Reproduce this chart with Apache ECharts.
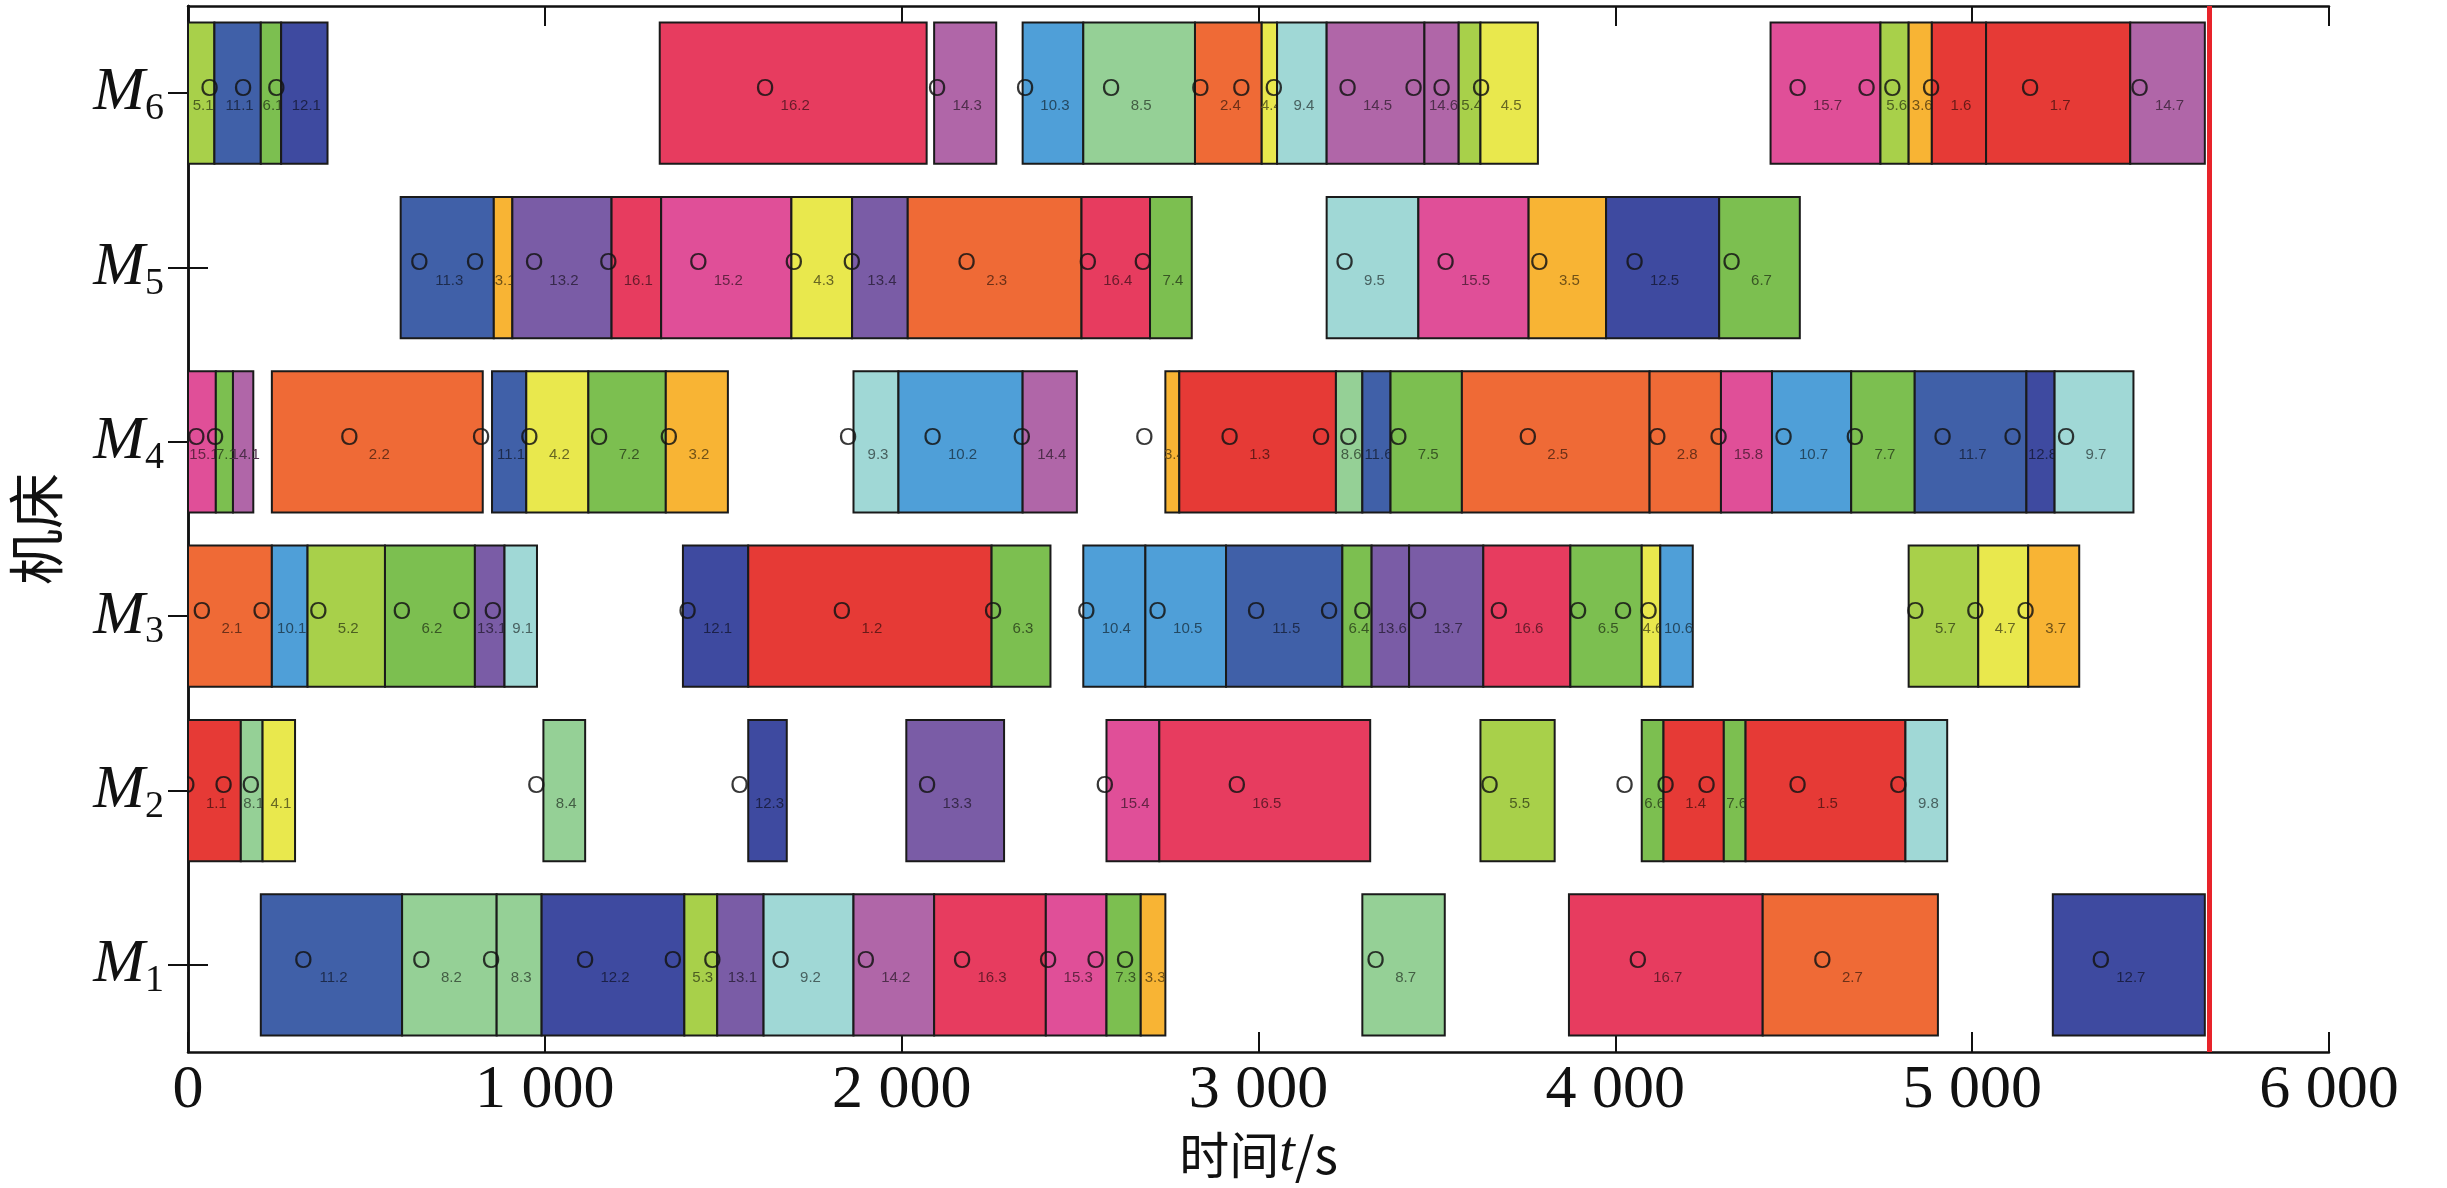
<!DOCTYPE html>
<html>
<head>
<meta charset="utf-8">
<script src="https://cdn.jsdelivr.net/npm/echarts@6/dist/echarts.min.js"></script>
<style>
html,body{margin:0;padding:0;background:#fff;}
#chart{width:2447px;height:1188px;}
</style>
</head>
<body>
<div id="chart"></div>
<script>
// ---------- data ----------
const machines = ['M1', 'M2', 'M3', 'M4', 'M5', 'M6'];
const xTicks = [0, 1000, 2000, 3000, 4000, 5000, 6000];
const makespan = 5665;

// [start, end, 'job.operation']
const opsM1 = [
  [204, 600, '11.2'], [600, 865, '8.2'], [865, 991, '8.3'], [991, 1391, '12.2'],
  [1391, 1483, '5.3'], [1483, 1613, '13.1'], [1613, 1865, '9.2'], [1865, 2091, '14.2'],
  [2091, 2404, '16.3'], [2404, 2574, '15.3'], [2574, 2670, '7.3'], [2670, 2739, '3.3'],
  [3291, 3522, '8.7'], [3870, 4413, '16.7'], [4413, 4904, '2.7'], [5226, 5652, '12.7']
];
const opsM2 = [
  [0, 148, '1.1'], [148, 209, '8.1'], [209, 300, '4.1'], [996, 1113, '8.4'],
  [1570, 1678, '12.3'], [2013, 2287, '13.3'], [2574, 2722, '15.4'], [2722, 3313, '16.5'],
  [3622, 3830, '5.5'], [4074, 4135, '6.6'], [4135, 4304, '1.4'], [4304, 4365, '7.6'],
  [4365, 4813, '1.5'], [4813, 4930, '9.8']
];
const opsM3 = [
  [0, 235, '2.1'], [235, 335, '10.1'], [335, 552, '5.2'], [552, 804, '6.2'],
  [804, 887, '13.1'], [887, 978, '9.1'], [1387, 1570, '12.1'], [1570, 2252, '1.2'],
  [2252, 2417, '6.3'], [2509, 2683, '10.4'], [2683, 2909, '10.5'], [2909, 3235, '11.5'],
  [3235, 3317, '6.4'], [3317, 3422, '13.6'], [3422, 3630, '13.7'], [3630, 3874, '16.6'],
  [3874, 4074, '6.5'], [4074, 4126, '4.6'], [4126, 4217, '10.6'],
  [4822, 5017, '5.7'], [5017, 5157, '4.7'], [5157, 5300, '3.7']
];
const opsM4 = [
  [0, 78, '15.1'], [78, 126, '7.1'], [126, 183, '14.1'], [235, 826, '2.2'],
  [852, 948, '11.1'], [948, 1122, '4.2'], [1122, 1339, '7.2'], [1339, 1513, '3.2'],
  [1865, 1991, '9.3'], [1991, 2339, '10.2'], [2339, 2491, '14.4'],
  [2739, 2778, '3.4'], [2778, 3217, '1.3'], [3217, 3291, '8.6'], [3291, 3370, '11.6'],
  [3370, 3570, '7.5'], [3570, 4096, '2.5'], [4096, 4296, '2.8'], [4296, 4439, '15.8'],
  [4439, 4661, '10.7'], [4661, 4839, '7.7'], [4839, 5152, '11.7'], [5152, 5231, '12.8'],
  [5231, 5452, '9.7']
];
const opsM5 = [
  [596, 857, '11.3'], [857, 909, '3.1'], [909, 1187, '13.2'], [1187, 1326, '16.1'],
  [1326, 1691, '15.2'], [1691, 1861, '4.3'], [1861, 2017, '13.4'], [2017, 2504, '2.3'],
  [2504, 2696, '16.4'], [2696, 2813, '7.4'], [3191, 3448, '9.5'], [3448, 3757, '15.5'],
  [3757, 3974, '3.5'], [3974, 4291, '12.5'], [4291, 4517, '6.7']
];
const opsM6 = [
  [0, 74, '5.1'], [74, 204, '11.1'], [204, 261, '6.1'], [261, 391, '12.1'],
  [1322, 2070, '16.2'], [2091, 2265, '14.3'], [2339, 2509, '10.3'], [2509, 2822, '8.5'],
  [2822, 3009, '2.4'], [3009, 3052, '4.4'], [3052, 3191, '9.4'], [3191, 3465, '14.5'],
  [3465, 3561, '14.6'], [3561, 3622, '5.4'], [3622, 3783, '4.5'],
  [4435, 4743, '15.7'], [4743, 4822, '5.6'], [4822, 4887, '3.6'], [4887, 5039, '1.6'],
  [5039, 5443, '1.7'], [5443, 5652, '14.7']
];

// ---------- styles ----------
const jobColors = [
  '#e63a36', // 1 red
  '#ef6a36', // 2 orange
  '#f8b434', // 3 amber
  '#e9e84d', // 4 yellow
  '#a8d04a', // 5 yellow-green
  '#7cbf50', // 6 green
  '#7cbf50', // 7 green
  '#95d096', // 8 light green
  '#a0d8d6', // 9 light cyan
  '#4f9fd8', // 10 blue
  '#4060a8', // 11 dark blue
  '#3e4aa0', // 12 indigo
  '#7a5ca6', // 13 purple
  '#b066a8', // 14 orchid
  '#e04f98', // 15 pink
  '#e73c5f'  // 16 crimson
];

function darken(hex, f) {
  const n = parseInt(hex.slice(1), 16);
  const r = Math.round(((n >> 16) & 255) * f);
  const g = Math.round(((n >> 8) & 255) * f);
  const b = Math.round((n & 255) * f);
  return 'rgb(' + r + ',' + g + ',' + b + ')';
}

const allOps = [opsM1, opsM2, opsM3, opsM4, opsM5, opsM6];
const seriesData = [];
allOps.forEach(function (ops, mi) {
  ops.forEach(function (op) {
    const job = parseInt(op[2].split('.')[0], 10);
    seriesData.push([mi, op[0], op[1], job, op[2]]);
  });
});

function renderItem(params, api) {
  const mi = api.value(0);
  const p0 = api.coord([api.value(1), mi]);
  const p1 = api.coord([api.value(2), mi]);
  const h = api.size([0, 1])[1] * 0.81;
  const job = api.value(3);
  const label = seriesData[params.dataIndex][4];
  const col = jobColors[job - 1];
  const cx = (p0[0] + p1[0]) / 2;
  const cy = p0[1];
  return {
    type: 'group',
    children: [
      {
        type: 'rect',
        shape: { x: p0[0], y: cy - h / 2, width: p1[0] - p0[0], height: h },
        style: { fill: col, stroke: '#1a1a1a', lineWidth: 2 }
      },
      {
        type: 'text',
        style: {
          text: 'O', x: cx - 28, y: cy - 4,
          fill: 'rgba(20,20,20,0.85)',
          font: '24px "Liberation Sans"',
          align: 'center', verticalAlign: 'middle'
        }
      },
      {
        type: 'text',
        style: {
          text: label, x: cx + 2, y: cy + 13,
          fill: darken(col, 0.45),
          font: '15px "Liberation Sans"',
          align: 'center', verticalAlign: 'middle'
        }
      }
    ]
  };
}

const chart = echarts.init(document.getElementById('chart'));
const axisFont = '"Liberation Serif", "Times New Roman", serif';

chart.setOption({
  animation: false,
  backgroundColor: '#ffffff',
  grid: { left: 181, right: 118, top: 6, bottom: 122, containLabel: false },
  xAxis: [
    {
      type: 'value', min: xTicks[0], max: xTicks[xTicks.length - 1], interval: 1000,
      position: 'bottom',
      axisLine: { show: true, lineStyle: { color: '#111', width: 2.5 } },
      axisTick: { show: true, inside: true, length: 20, lineStyle: { color: '#111', width: 2 } },
      splitLine: { show: false },
      axisLabel: {
        margin: 8,
        fontFamily: axisFont, fontSize: 62, color: '#111',
        formatter: function (v) { return v === 0 ? '0' : (v / 1000) + ' 000'; }
      },
      name: '时间{i|t}/s',
      nameLocation: 'middle',
      nameGap: 64,
      nameTextStyle: {
        fontFamily: '"Noto Sans CJK SC", ' + axisFont, fontSize: 50, color: '#111',
        rich: { i: { fontFamily: axisFont, fontStyle: 'italic', fontSize: 56, color: '#111' } }
      }
    },
    {
      type: 'value', min: xTicks[0], max: xTicks[xTicks.length - 1], interval: 1000,
      position: 'top',
      axisLine: { show: true, lineStyle: { color: '#111', width: 2.5 } },
      axisTick: { show: true, inside: true, length: 20, lineStyle: { color: '#111', width: 2 } },
      axisLabel: { show: false },
      splitLine: { show: false }
    }
  ],
  yAxis: [
    {
      type: 'category', data: machines, position: 'left',
      axisLine: { show: true, lineStyle: { color: '#111', width: 2.5 } },
      axisTick: { show: true, inside: true, alignWithLabel: true, length: 20, lineStyle: { color: '#111', width: 2 } },
      splitLine: { show: false },
      axisLabel: {
        margin: 24,
        formatter: function (v) { return '{m|M}{s|' + v.slice(1) + '}'; },
        rich: {
          m: { fontFamily: axisFont, fontStyle: 'italic', fontSize: 62, color: '#111', lineHeight: 70 },
          s: { fontFamily: axisFont, fontSize: 38, color: '#111', verticalAlign: 'bottom', lineHeight: 70, padding: [30, 0, 0, 0] }
        }
      },
      name: '机床',
      nameLocation: 'middle',
      nameRotate: 90,
      nameGap: 124,
      nameTextStyle: { fontFamily: '"Noto Sans CJK SC"', fontSize: 56, color: '#111' }
    },
    {
      type: 'category', data: machines, position: 'right',
      axisLine: { show: true, lineStyle: { color: '#111', width: 2.5 } },
      axisTick: { show: true, inside: true, alignWithLabel: true, length: 20, lineStyle: { color: '#111', width: 2 } },
      axisLabel: { show: false },
      splitLine: { show: false }
    }
  ],
  series: [
    {
      type: 'custom',
      renderItem: renderItem,
      xAxisIndex: 0, yAxisIndex: 0,
      encode: { x: [1, 2], y: 0 },
      data: seriesData,
      clip: true,
      markLine: {
        silent: true,
        symbol: ['none', 'none'],
        label: { show: false },
        lineStyle: { color: '#e8232a', width: 5, type: 'solid' },
        data: [{ xAxis: makespan }]
      }
    }
  ]
});
</script>
</body>
</html>
